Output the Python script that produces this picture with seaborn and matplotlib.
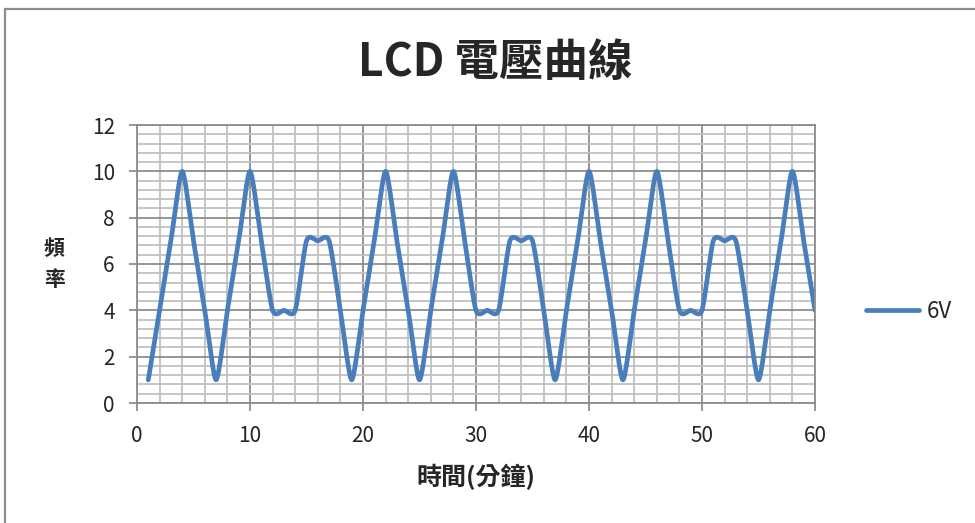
import numpy as np
import pandas as pd
import seaborn as sns
from matplotlib import pyplot as plt
from matplotlib.lines import Line2D
from matplotlib.ticker import MultipleLocator

minutes = list(range(1, 61))
freq_6v = [1, 4, 7, 10, 7, 4, 1, 4, 7, 10,
           7, 4, 4, 4, 7, 7, 7, 4, 1, 4,
           7, 10, 7, 4, 1, 4, 7, 10, 7, 4,
           4, 4, 7, 7, 7, 4, 1, 4, 7, 10,
           7, 4, 1, 4, 7, 10, 7, 4, 4, 4,
           7, 7, 7, 4, 1, 4, 7, 10, 7, 4]
series_name = '6V'
title = 'LCD 電壓曲線'
xlabel = '時間(分鐘)'
ylabel = '頻\n率'

def smooth(x, y, n=24, k=0.35):
    # excel style smoothed line (cardinal spline through every point)
    x = np.asarray(x, float); y = np.asarray(y, float)
    px = np.r_[x[0], x, x[-1]]; py = np.r_[y[0], y, y[-1]]
    t = np.linspace(0, 1, n, endpoint=False)
    xs, ys = [], []
    for i in range(1, len(px) - 2):
        for p, out in ((px, xs), (py, ys)):
            p0, p1, p2, p3 = p[i-1], p[i], p[i+1], p[i+2]
            m1 = (p2 - p0) * k; m2 = (p3 - p1) * k
            h00 = 2*t**3 - 3*t**2 + 1; h10 = t**3 - 2*t**2 + t
            h01 = -2*t**3 + 3*t**2; h11 = t**3 - t**2
            out.extend(h00*p1 + h10*m1 + h01*p2 + h11*m2)
    xs.append(x[-1]); ys.append(y[-1])
    return pd.DataFrame({'x': xs, 'y': ys})

sns.set_style('white')
plt.rcParams['font.family'] = ['Noto Sans CJK TC', 'DejaVu Sans']

fig = plt.figure(figsize=(9.75, 5.23), dpi=100)
ax = fig.add_axes([137/975, 1-403/523, (815-137)/975, (403-125)/523])

df = smooth(minutes, freq_6v)
sns.lineplot(data=df, x='x', y='y', ax=ax, color='#4a7ebb', lw=3.4,
             label=series_name, sort=False, estimator=None)

ax.set_xlim(0, 60)
ax.set_ylim(0, 12)
ax.xaxis.set_major_locator(MultipleLocator(10))
ax.xaxis.set_minor_locator(MultipleLocator(2))
ax.yaxis.set_major_locator(MultipleLocator(2))
ax.yaxis.set_minor_locator(MultipleLocator(0.4))
ax.grid(which='minor', color='#c0c0c0', lw=1.3)
ax.grid(which='major', color='#8c8c8c', lw=1.3)
ax.set_axisbelow(True)
for s in ax.spines.values():
    s.set_color('#8c8c8c'); s.set_linewidth(1.3)
ax.tick_params(which='major', length=6, width=1.3, color='#8c8c8c',
               labelsize=15, pad=10, left=True, bottom=True)
ax.tick_params(which='minor', length=0)

fig.text(495/975, 1-63/523, title, fontsize=32, fontweight='bold',
         ha='center', va='center')
ax.set_xlabel(xlabel, fontsize=18, fontweight='bold', labelpad=12)
ax.set_ylabel(ylabel, fontsize=15, fontweight='bold', rotation=0,
              va='center', labelpad=27, linespacing=1.6)

ax.legend(loc='center left', bbox_to_anchor=(1.045, 0.33), frameon=False,
          fontsize=16, handlelength=2.4, handletextpad=0.35)

# chart area border (only top/left visible in the crop)
fig.add_artist(Line2D([5/975, 5/975], [0, 1-9/523], color='#8c8c8c', lw=1.6))
fig.add_artist(Line2D([5/975, 1], [1-9/523, 1-9/523], color='#8c8c8c', lw=1.6))

fig.savefig('out.png', dpi=100)
